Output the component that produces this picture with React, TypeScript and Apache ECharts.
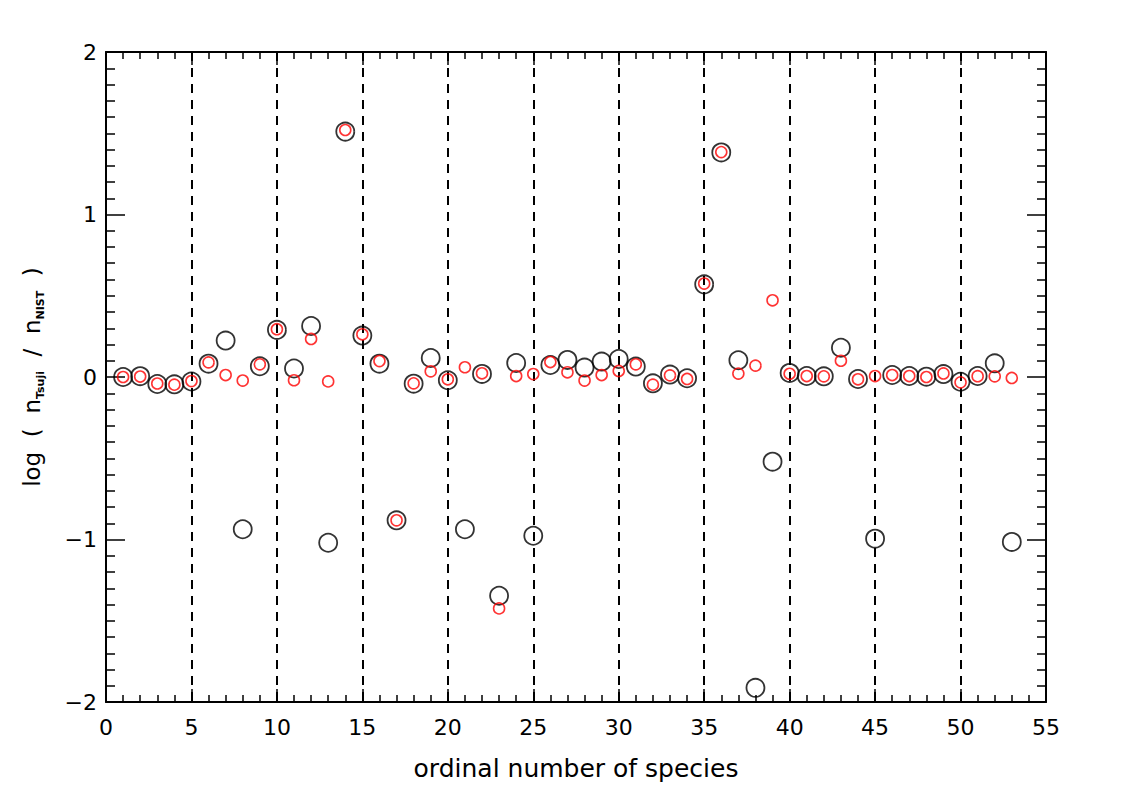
import React, { useEffect, useRef } from "react";
import * as echarts from "echarts";

const species = [
  1, 2, 3, 4, 5, 6, 7, 8, 9, 10, 11, 12, 13, 14, 15, 16, 17, 18, 19, 20,
  21, 22, 23, 24, 25, 26, 27, 28, 29, 30, 31, 32, 33, 34, 35, 36, 37, 38, 39, 40,
  41, 42, 43, 44, 45, 46, 47, 48, 49, 50, 51, 52, 53,
];

// large black circles
const blackValues = [
  0.0, 0.005, -0.043, -0.045, -0.028, 0.082, 0.224, -0.937, 0.066, 0.29,
  0.052, 0.314, -1.02, 1.51, 0.255, 0.082, -0.882, -0.041, 0.117, -0.02,
  -0.937, 0.019, -1.346, 0.086, -0.977, 0.074, 0.105, 0.058, 0.095, 0.111,
  0.064, -0.039, 0.015, -0.008, 0.57, 1.382, 0.103, -1.913, -0.521, 0.025,
  0.006, 0.004, 0.18, -0.012, -0.995, 0.012, 0.006, 0.002, 0.018, -0.029,
  0.006, 0.084, -1.015,
];

// small red circles
const redValues = [
  0.0, 0.003, -0.04, -0.047, -0.025, 0.09, 0.012, -0.022, 0.078, 0.294,
  -0.02, 0.234, -0.027, 1.52, 0.263, 0.098, -0.882, -0.039, 0.035, -0.014,
  0.06, 0.023, -1.424, 0.006, 0.018, 0.092, 0.029, -0.022, 0.012, 0.037,
  0.078, -0.047, 0.01, -0.012, 0.575, 1.384, 0.021, 0.07, 0.472, 0.02,
  0.006, 0.004, 0.1, -0.014, 0.006, 0.012, 0.006, 0.0, 0.022, -0.033,
  0.005, 0.004, -0.006,
];

const FONT = "DejaVu Sans";

const fmtY = (v: number) => (v < 0 ? "\u2212" + Math.abs(v) : String(v));

export default function App() {
  const ref = useRef<HTMLDivElement>(null);
  useEffect(() => {
    if (!ref.current) return;
    const chart = echarts.init(ref.current, null, { renderer: "svg" });
    const black = species.map((s, i) => [s, blackValues[i]]);
    const red = species.map((s, i) => [s, redValues[i]]);
    const xCommon = {
      type: "value" as const,
      min: 0,
      max: 55,
      interval: 5,
      axisLine: { show: true, onZero: false, lineStyle: { color: "#000", width: 2 } },
      axisTick: { show: true, inside: true, length: 13, lineStyle: { color: "#000", width: 1.5 } },
      minorTick: { show: true, splitNumber: 5, length: 7, lineStyle: { color: "#000", width: 1.5 } },
    };
    const yCommon = {
      type: "value" as const,
      min: -2,
      max: 2,
      interval: 1,
      axisLine: { show: true, onZero: false, lineStyle: { color: "#000", width: 2 } },
      axisTick: { show: true, inside: true, length: 19, lineStyle: { color: "#000", width: 1.5 } },
      minorTick: { show: true, splitNumber: 10, length: 9, lineStyle: { color: "#000", width: 1.5 } },
      splitLine: { show: false },
    };
    chart.setOption({
      animation: false,
      backgroundColor: "#fff",
      grid: { left: 106, top: 52, right: 75, bottom: 105, containLabel: false },
      xAxis: [
        {
          ...xCommon,
          position: "bottom",
          name: "ordinal number of species",
          nameLocation: "middle",
          nameGap: 54,
          nameTextStyle: { fontFamily: FONT, fontSize: 25, color: "#000" },
          axisLabel: { show: true, margin: 14, fontFamily: FONT, fontSize: 22, color: "#000" },
          splitLine: {
            show: true,
            lineStyle: { color: "#000", width: 2, type: [9, 7] },
          },
        },
        {
          ...xCommon,
          position: "top",
          axisLabel: { show: false },
          splitLine: { show: false },
        },
      ],
      yAxis: [
        {
          ...yCommon,
          position: "left",
          name: "{a|log  (  n}{s|Tsuji}{a|  /  n}{s|NIST}{a|  )}",
          nameLocation: "middle",
          nameGap: 60,
          nameTextStyle: {
            color: "#000",
            rich: {
              a: { fontFamily: FONT, fontSize: 23, color: "#000", lineHeight: 28 },
              s: {
                fontFamily: FONT,
                fontSize: 11,
                fontWeight: "bold",
                color: "#000",
                verticalAlign: "bottom",
                lineHeight: 15,
              },
            },
          },
          axisLabel: {
            show: true,
            margin: 9,
            fontFamily: FONT,
            fontSize: 22,
            color: "#000",
            formatter: fmtY,
          },
        },
        {
          ...yCommon,
          position: "right",
          axisLabel: { show: false },
        },
      ],
      series: [
        {
          type: "scatter",
          name: "black",
          data: black,
          symbol: "circle",
          symbolSize: 18,
          itemStyle: { color: "rgba(0,0,0,0)", borderColor: "#000", borderWidth: 1.8 },
          z: 3,
        },
        {
          type: "scatter",
          name: "red",
          data: red,
          symbol: "circle",
          symbolSize: 11,
          itemStyle: { color: "rgba(0,0,0,0)", borderColor: "#ff0000", borderWidth: 1.6 },
          z: 4,
        },
      ],
    });
    return () => chart.dispose();
  }, []);
  return (
    <div
      ref={ref}
      style={{ position: "fixed", left: 0, top: 0, width: 1121, height: 807, background: "#fff" }}
    />
  );
}
